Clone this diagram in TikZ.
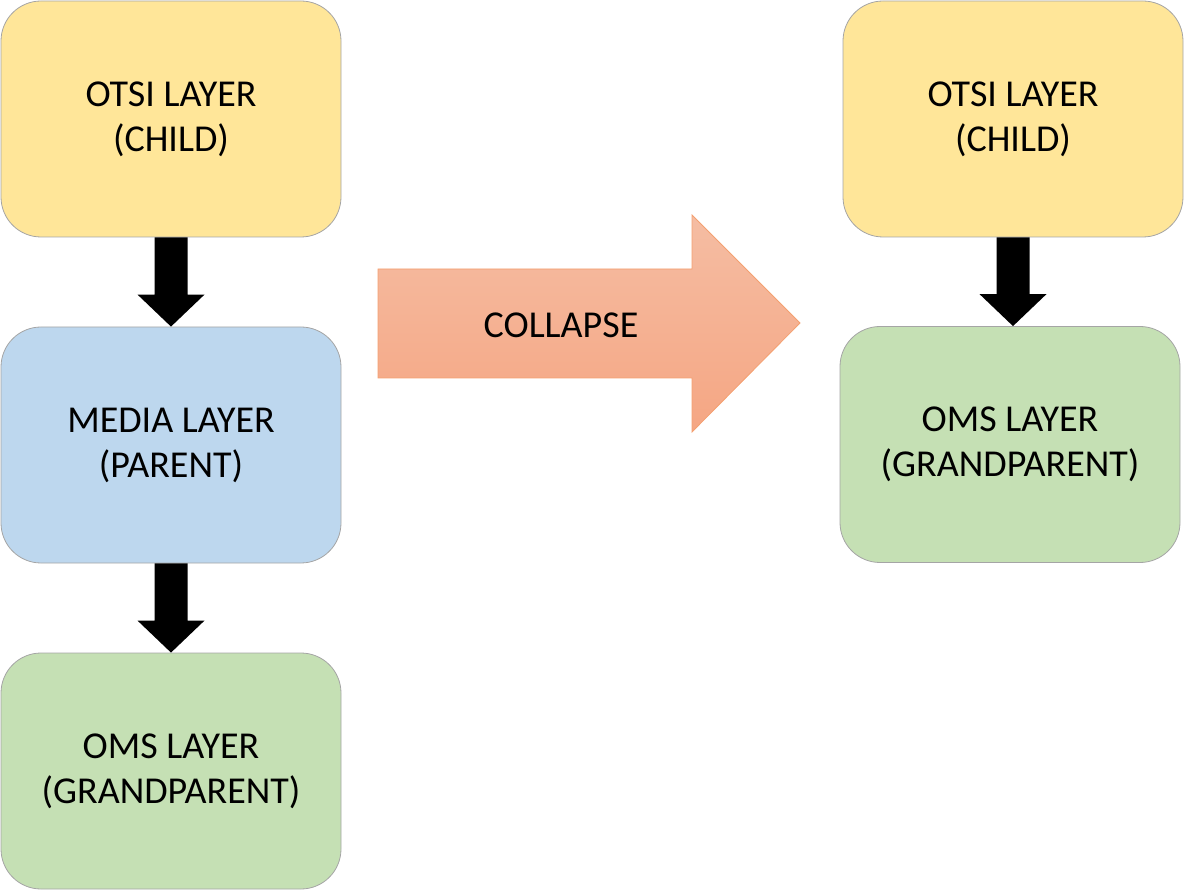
\documentclass[tikz,border=0pt]{standalone}
\usepackage{fontspec}
\setmainfont{Carlito}
\usetikzlibrary{calc}
\definecolor{yel}{HTML}{FFE699}
\definecolor{blu}{HTML}{BDD7EE}
\definecolor{grn}{HTML}{C5E0B4}
\definecolor{boxline}{HTML}{A5A5A5}
\definecolor{orgtop}{HTML}{F5BDA3}
\definecolor{orgbot}{HTML}{F5A683}
\definecolor{orgline}{HTML}{F4A070}
\begin{document}
\begin{tikzpicture}[x=1pt,y=-1pt,
  layerbox/.style={draw=boxline,line width=0.8pt,rounded corners=40pt,
    minimum width=340pt,minimum height=236pt,align=center,
    font=\fontsize{38}{45}\selectfont,inner sep=0pt},
  blockarrow/.style={fill=black}]
\useasboundingbox (0,0) rectangle (1184,890);
\node[layerbox,fill=yel] (otsiL) at (171,119) {OTSI LAYER\\(CHILD)};
\node[layerbox,fill=blu] (media) at (171,445) {MEDIA LAYER\\(PARENT)};
\node[layerbox,fill=grn] (omsL) at (171,771) {OMS LAYER\\(GRANDPARENT)};
\node[layerbox,fill=yel] (otsiR) at (1013,119) {OTSI LAYER\\(CHILD)};
\node[layerbox,fill=grn] (omsR) at (1010,444.5) {OMS LAYER\\(GRANDPARENT)};
% block arrows
\foreach \a/\b in {otsiL/media, media/omsL, otsiR/omsR}{
  \fill[blockarrow] ($(\a.south)+(-16.5,0)$) -- ($(\b.north -| \a.south)+(-16.5,-32)$)
    -- ($(\b.north -| \a.south)+(-33.5,-32)$) -- (\b.north -| \a.south)
    -- ($(\b.north -| \a.south)+(33.5,-32)$) -- ($(\b.north -| \a.south)+(16.5,-32)$)
    -- ($(\a.south)+(16.5,0)$) -- cycle;
}
% collapse arrow
\shade[top color=orgtop,bottom color=orgbot,draw=orgline,line width=0.8pt]
  (378,269) -- (692,269) -- (692,215) -- (800,323) -- (692,432) -- (692,378) -- (378,378) -- cycle;
\node[font=\fontsize{38}{45}\selectfont,inner sep=0pt] (collapse) at (561,325) {COLLAPSE};
\end{tikzpicture}
\end{document}
